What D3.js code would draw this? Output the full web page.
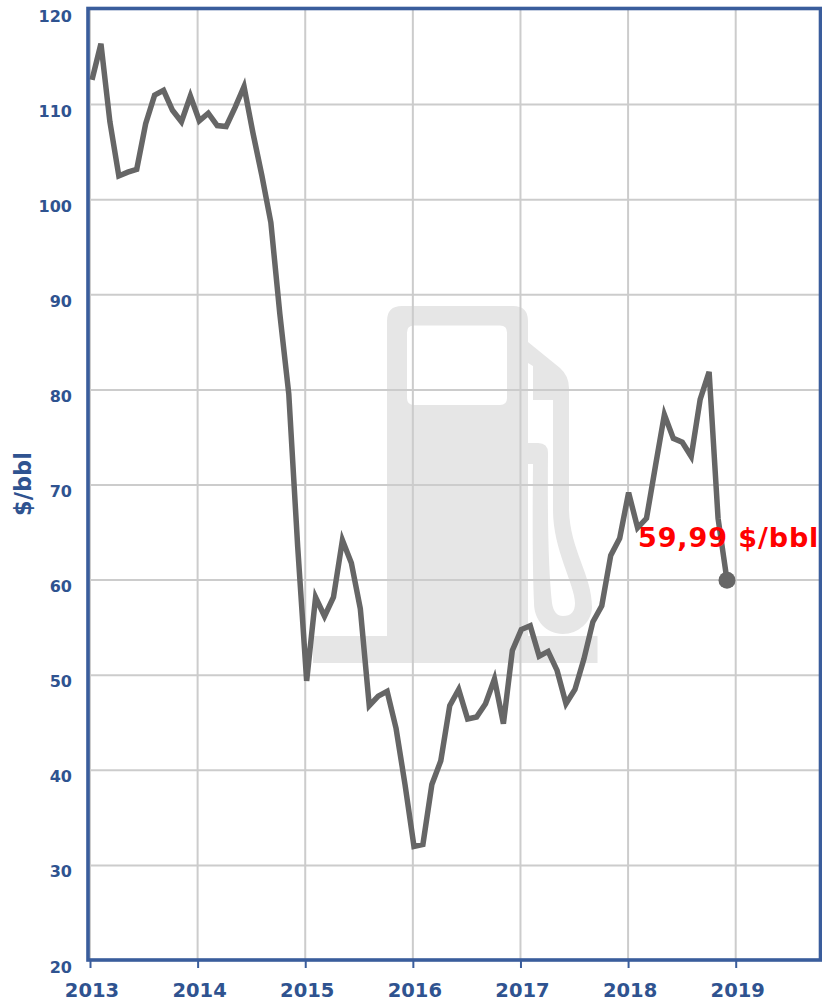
<!DOCTYPE html>
<html>
<head>
<meta charset="utf-8">
<script src="https://cdnjs.cloudflare.com/ajax/libs/d3/7.8.5/d3.min.js"></script>
<style>
  html, body { margin: 0; padding: 0; background: #fff; }
  svg { display: block; }
  text { font-family: "DejaVu Sans", Verdana, sans-serif; font-weight: bold; }
</style>
</head>
<body>
<div id="chart"></div>
<script>
// monthly price, Jan 2013 - Dec 2018
const prices2013 = [112.6, 116.4, 108.2, 102.5, 102.9, 103.2, 108.0, 111.0, 111.5, 109.4, 108.2, 110.9];
const prices2014 = [108.3, 109.1, 107.8, 107.7, 109.7, 111.9, 107.0, 102.5, 97.6, 88.0, 79.6, 63.5];
const prices2015 = [49.4, 58.2, 56.2, 58.2, 64.2, 61.8, 57.0, 46.8, 47.8, 48.3, 44.4, 38.5];
const prices2016 = [32.0, 32.2, 38.5, 41.0, 46.8, 48.5, 45.4, 45.6, 47.0, 49.6, 44.9, 52.6];
const prices2017 = [54.8, 55.2, 52.0, 52.5, 50.5, 47.0, 48.5, 51.7, 55.6, 57.3, 62.6, 64.4];
const prices2018 = [69.2, 65.5, 66.5, 72.0, 77.4, 74.9, 74.5, 73.0, 79.0, 81.9, 66.5, 59.99];
const prices = [...prices2013, ...prices2014, ...prices2015, ...prices2016, ...prices2017, ...prices2018];

const yearLabels = ['2013', '2014', '2015', '2016', '2017', '2018', '2019'];
const yTicks = [20, 30, 40, 50, 60, 70, 80, 90, 100, 110, 120];
const lastLabel = '59,99 $/bbl';
const yTitle = '$/bbl';

const blue = '#3a5d9c';
const textBlue = '#2f5390';
const gridGrey = '#cccccc';

const width = 822, height = 1002;

const svg = d3.select('#chart').append('svg')
  .attr('width', width)
  .attr('height', height);

// ticks sit a little left of the first points, so the line gets its own scale
const x = d3.scaleLinear().domain([0, 81.4]).range([90, 820]);
const xLine = d3.scaleLinear().domain([0, 71]).range([92, 727]);
const y = d3.scaleLinear().domain([20, 120]).range([960.5, 9.5]);

// pump icon behind the grid
svg.append('path')
  .attr('fill', '#e6e6e6')
  .attr('fill-rule', 'evenodd')
  .attr('d', 'M402,306 H513 Q528,306 528,321 V636 H387 V321 Q387,306 402,306 Z'
    + 'M414,325.5 Q407,325.5 407,332.5 V398 Q407,405 414,405 H500 Q507,405 507,398 V332.5 Q507,325.5 500,325.5 Z'
    + 'M313,636 H597.5 V663 H313 Z');
svg.append('path')
  .attr('fill', '#e6e6e6')
  .attr('d', 'M528,342 L560,368 Q569,376 569,388 V510 C570,550 592,575 592,607 C592,622 578,634 563,634 C546,634 534,620 534,603 '
    + 'Q532,560 533,464 H528 V443 H538 Q548,443 548,453 Q547,560 552,603 Q554,616 563,616 Q575,616 575,603 C575,585 553,550 553,510 '
    + 'L553,400 H533 V366 L528,363 Z');

// grid
const grid = svg.append('g');
grid.selectAll('line.h')
  .data(yTicks.filter(d => d > 20 && d < 120))
  .enter().append('line')
  .attr('class', 'h')
  .attr('x1', x(0)).attr('x2', 820)
  .attr('y1', d => y(d)).attr('y2', d => y(d))
  .attr('stroke', gridGrey).attr('stroke-width', 2);
grid.selectAll('line.v')
  .data(yearLabels.map((d, i) => i * 12))
  .enter().append('line')
  .attr('class', 'v')
  .attr('x1', d => x(d)).attr('x2', d => x(d))
  .attr('y1', y(120)).attr('y2', y(20))
  .attr('stroke', gridGrey).attr('stroke-width', 2);

// line
const line = d3.line()
  .x((d, i) => xLine(i))
  .y(d => y(d));

svg.append('path')
  .datum(prices)
  .attr('fill', 'none')
  .attr('stroke', '#666666')
  .attr('stroke-width', 5.5)
  .attr('stroke-linejoin', 'miter')
  .attr('d', line);

svg.append('circle')
  .attr('cx', xLine(prices.length - 1))
  .attr('cy', y(prices[prices.length - 1]))
  .attr('r', 8.5)
  .attr('fill', '#666666');

// frame
svg.append('rect')
  .attr('x', 88).attr('y', 8.5)
  .attr('width', 732.5).attr('height', 951.5)
  .attr('fill', 'none')
  .attr('stroke', blue)
  .attr('stroke-width', 3.6);

// axes
const xAxis = d3.axisBottom(x)
  .tickValues(yearLabels.map((d, i) => i * 12))
  .tickFormat((d, i) => yearLabels[i])
  .tickSize(8)
  .tickPadding(15);

const gx = svg.append('g')
  .attr('transform', `translate(0,960)`)
  .call(xAxis);
gx.select('.domain').remove();
gx.selectAll('line').attr('stroke', blue).attr('stroke-width', 2);
gx.selectAll('text')
  .attr('fill', textBlue)
  .style('font-size', '19.5px')
  .attr('dx', 1.5);

const yAxis = d3.axisLeft(y)
  .tickValues(yTicks)
  .tickSize(0)
  .tickPadding(16);

const gy = svg.append('g')
  .attr('transform', `translate(88,0)`)
  .call(yAxis);
gy.select('.domain').remove();
gy.selectAll('text')
  .attr('fill', textBlue)
  .style('font-size', '16px')
  .attr('dy', '0.72em');

svg.append('text')
  .attr('transform', 'translate(31,484) rotate(-90)')
  .attr('text-anchor', 'middle')
  .attr('fill', textBlue)
  .style('font-size', '22.5px')
  .text(yTitle);

// end value label
svg.append('text')
  .attr('x', 638)
  .attr('y', 547)
  .attr('fill', '#ff0000')
  .style('font-size', '27px')
  .style('letter-spacing', '0.9px')
  .text(lastLabel);
</script>
</body>
</html>
